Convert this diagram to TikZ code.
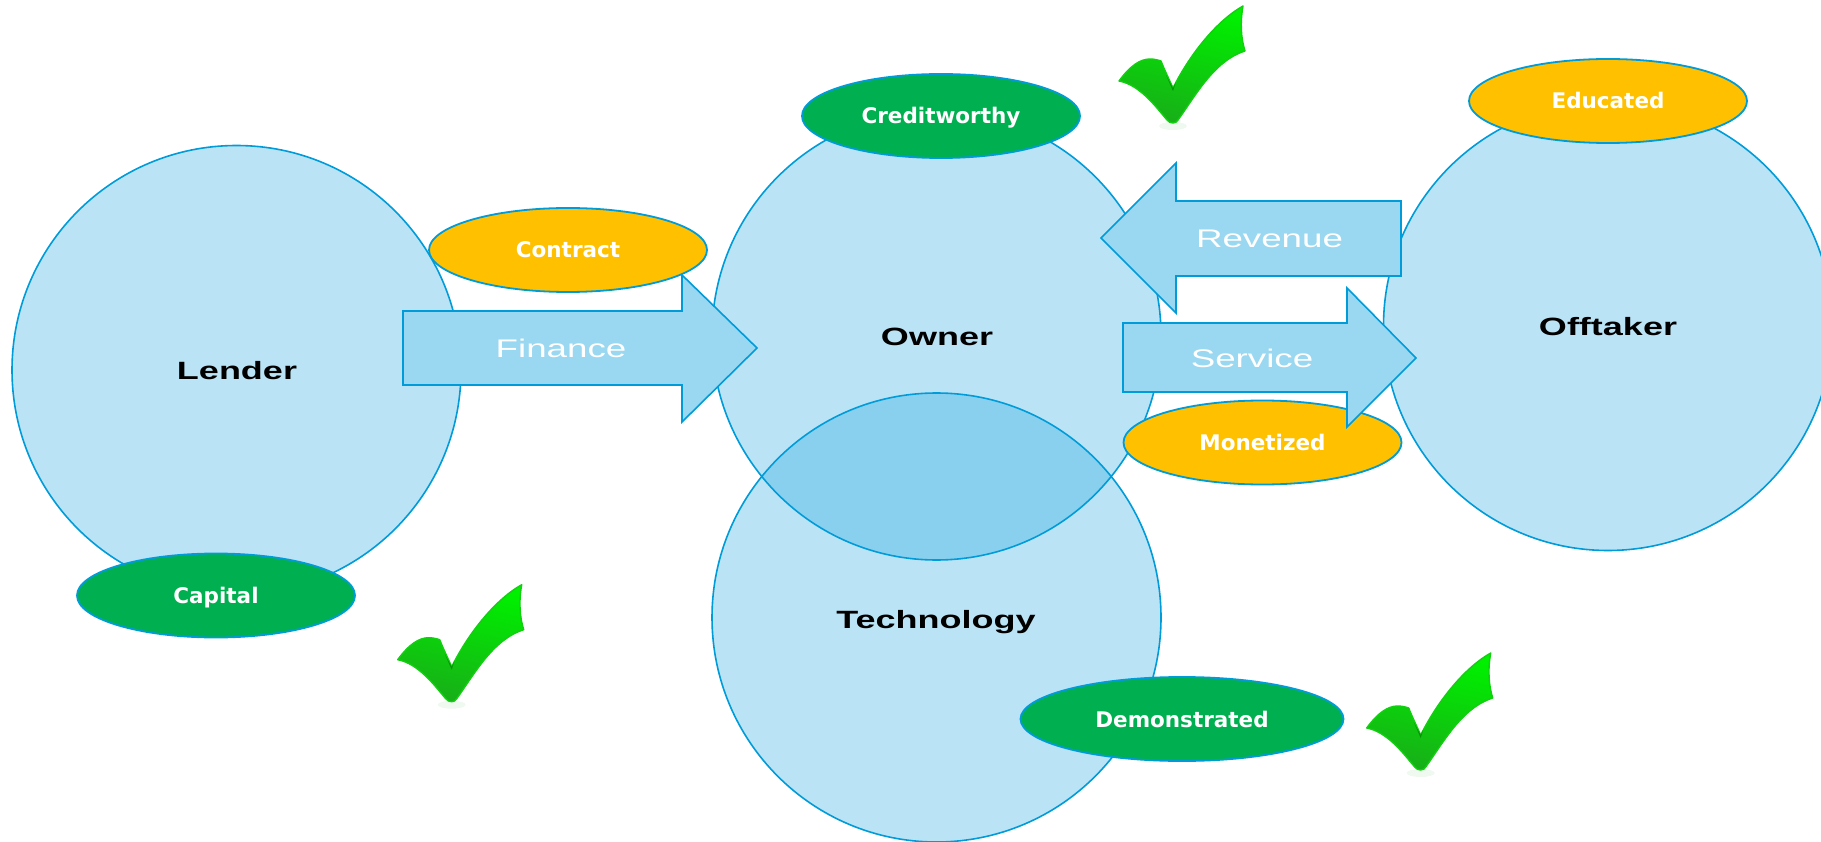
\documentclass[tikz,border=0pt]{standalone}
\usepackage{fontspec}
\usetikzlibrary{shapes.geometric}
\newfontfamily\widebold[FakeStretch=1.44]{Liberation Sans Bold}
\newfontfamily\wideplain[FakeStretch=1.44]{Liberation Sans}
\newfontfamily\tagfont{DejaVu Sans Bold}
\definecolor{edgeblue}{HTML}{009BD9}
\definecolor{arrowblue}{HTML}{9AD7F0}
\definecolor{tagamber}{HTML}{FFC000}
\definecolor{taggreen}{HTML}{00B050}
\definecolor{checktop}{HTML}{00F000}
\definecolor{checkmid}{HTML}{12D612}
\definecolor{checklow}{HTML}{18AE18}
\definecolor{checkedge}{HTML}{10D010}
\tikzset{
  x=1pt,y=-1pt,
  bigcircle/.style={circle,draw=edgeblue,line width=1.6pt,fill=edgeblue,fill opacity=0.27,minimum size=449pt,inner sep=0pt},
  tagellipse/.style={ellipse,draw=edgeblue,line width=1.8pt,inner sep=0pt,minimum height=84pt},
  ambertag/.style={tagellipse,fill=tagamber,minimum width=278pt},
  greentag/.style={tagellipse,fill=taggreen,minimum width=278pt},
  flowarrow/.style={draw=edgeblue,line width=1.6pt,fill=arrowblue,line join=miter},
  partyname/.style={anchor=base,text=black,font=\widebold\fontsize{25}{30}\selectfont,inner sep=0pt},
  flowname/.style={anchor=base,text=white,font=\wideplain\fontsize{25.5}{30}\selectfont,inner sep=0pt},
  tagname/.style={anchor=base,text=white,font=\tagfont\fontsize{21.5}{26}\selectfont,inner sep=0pt},
  pics/greencheck/.style={code={
    \fill[checklow,opacity=0.07] (0,38) ellipse (14 and 4);
    \path[draw=checkedge,line width=1.4pt,line join=round,top color=checktop,middle color=checkmid,bottom color=checklow,shading angle=-12]
      (-54,-7) .. controls (-43,-22) and (-33,-29) .. (-23,-29)
      .. controls (-19,-29) and (-15,-28) .. (-12,-27)
      .. controls (-8,-17) and (-4,-9) .. (0,0)
      .. controls (18,-36) and (45,-68) .. (70,-82)
      .. controls (67,-65) and (68,-50) .. (72,-37)
      .. controls (41,-27) and (23,7) .. (5,32)
      .. controls (3,36) and (-3,36) .. (-6,32)
      .. controls (-17,19) and (-33,-3) .. (-54,-7) -- cycle;
    \fill[green!40!black,opacity=0.55] (-7,-13) -- (0,0) -- (3,-6) -- (0,3) -- cycle;
  }}
}
\begin{document}
\begin{tikzpicture}
\useasboundingbox (0,0) rectangle (1821,842);
\clip (0,0) rectangle (1821,842);
% circles
\node[bigcircle] (lender) at (236.5,370) {};
\node[bigcircle] (owner) at (936.5,335.5) {};
\node[bigcircle] (technology) at (936.5,617.5) {};
\node[bigcircle] (offtaker) at (1608,326) {};
\node[partyname] (lendertext) at (237,379) {Lender};
\node[partyname] (ownertext) at (937,345) {Owner};
\node[partyname] (technologytext) at (936,628) {Technology};
\node[partyname] (offtakertext) at (1608,336) {Offtaker};
% finance arrow and contract
\draw[flowarrow] (403,311) -- (682,311) -- (682,275) -- (757,348) -- (682,422) -- (682,385) -- (403,385) -- cycle;
\node[flowname] (financetext) at (561,357) {Finance};
\node[ambertag] (contract) at (568,250) {};
\node[tagname] (contracttext) at (568,258) {Contract};
% monetized and service
\node[ambertag] (monetized) at (1262.5,442.5) {};
\node[tagname] (monetizedtext) at (1262.5,450) {Monetized};
\draw[flowarrow] (1123,323) -- (1347,323) -- (1347,288) -- (1416,358) -- (1347,427) -- (1347,392) -- (1123,392) -- cycle;
\node[flowname] (servicetext) at (1252,367) {Service};
% revenue
\draw[flowarrow] (1101,238) -- (1176,163) -- (1176,201) -- (1401,201) -- (1401,276) -- (1176,276) -- (1176,313) -- cycle;
\node[flowname] (revenuetext) at (1269.5,248) {Revenue};
% tags
\node[greentag] (creditworthy) at (941,116) {};
\node[tagname] (creditworthytext) at (941,124) {Creditworthy};
\node[ambertag] (educated) at (1608,101) {};
\node[tagname] (educatedtext) at (1608,109) {Educated};
\node[greentag] (capital) at (216,595.5) {};
\node[tagname] (capitaltext) at (216,603) {Capital};
\node[greentag,minimum width=323pt] (demonstrated) at (1182,719) {};
\node[tagname] (demonstratedtext) at (1182,727) {Demonstrated};
% check marks
\pic at (1173,88) {greencheck};
\pic at (451.7,666.7) {greencheck};
\pic at (1420.7,735) {greencheck};
\end{tikzpicture}
\end{document}
